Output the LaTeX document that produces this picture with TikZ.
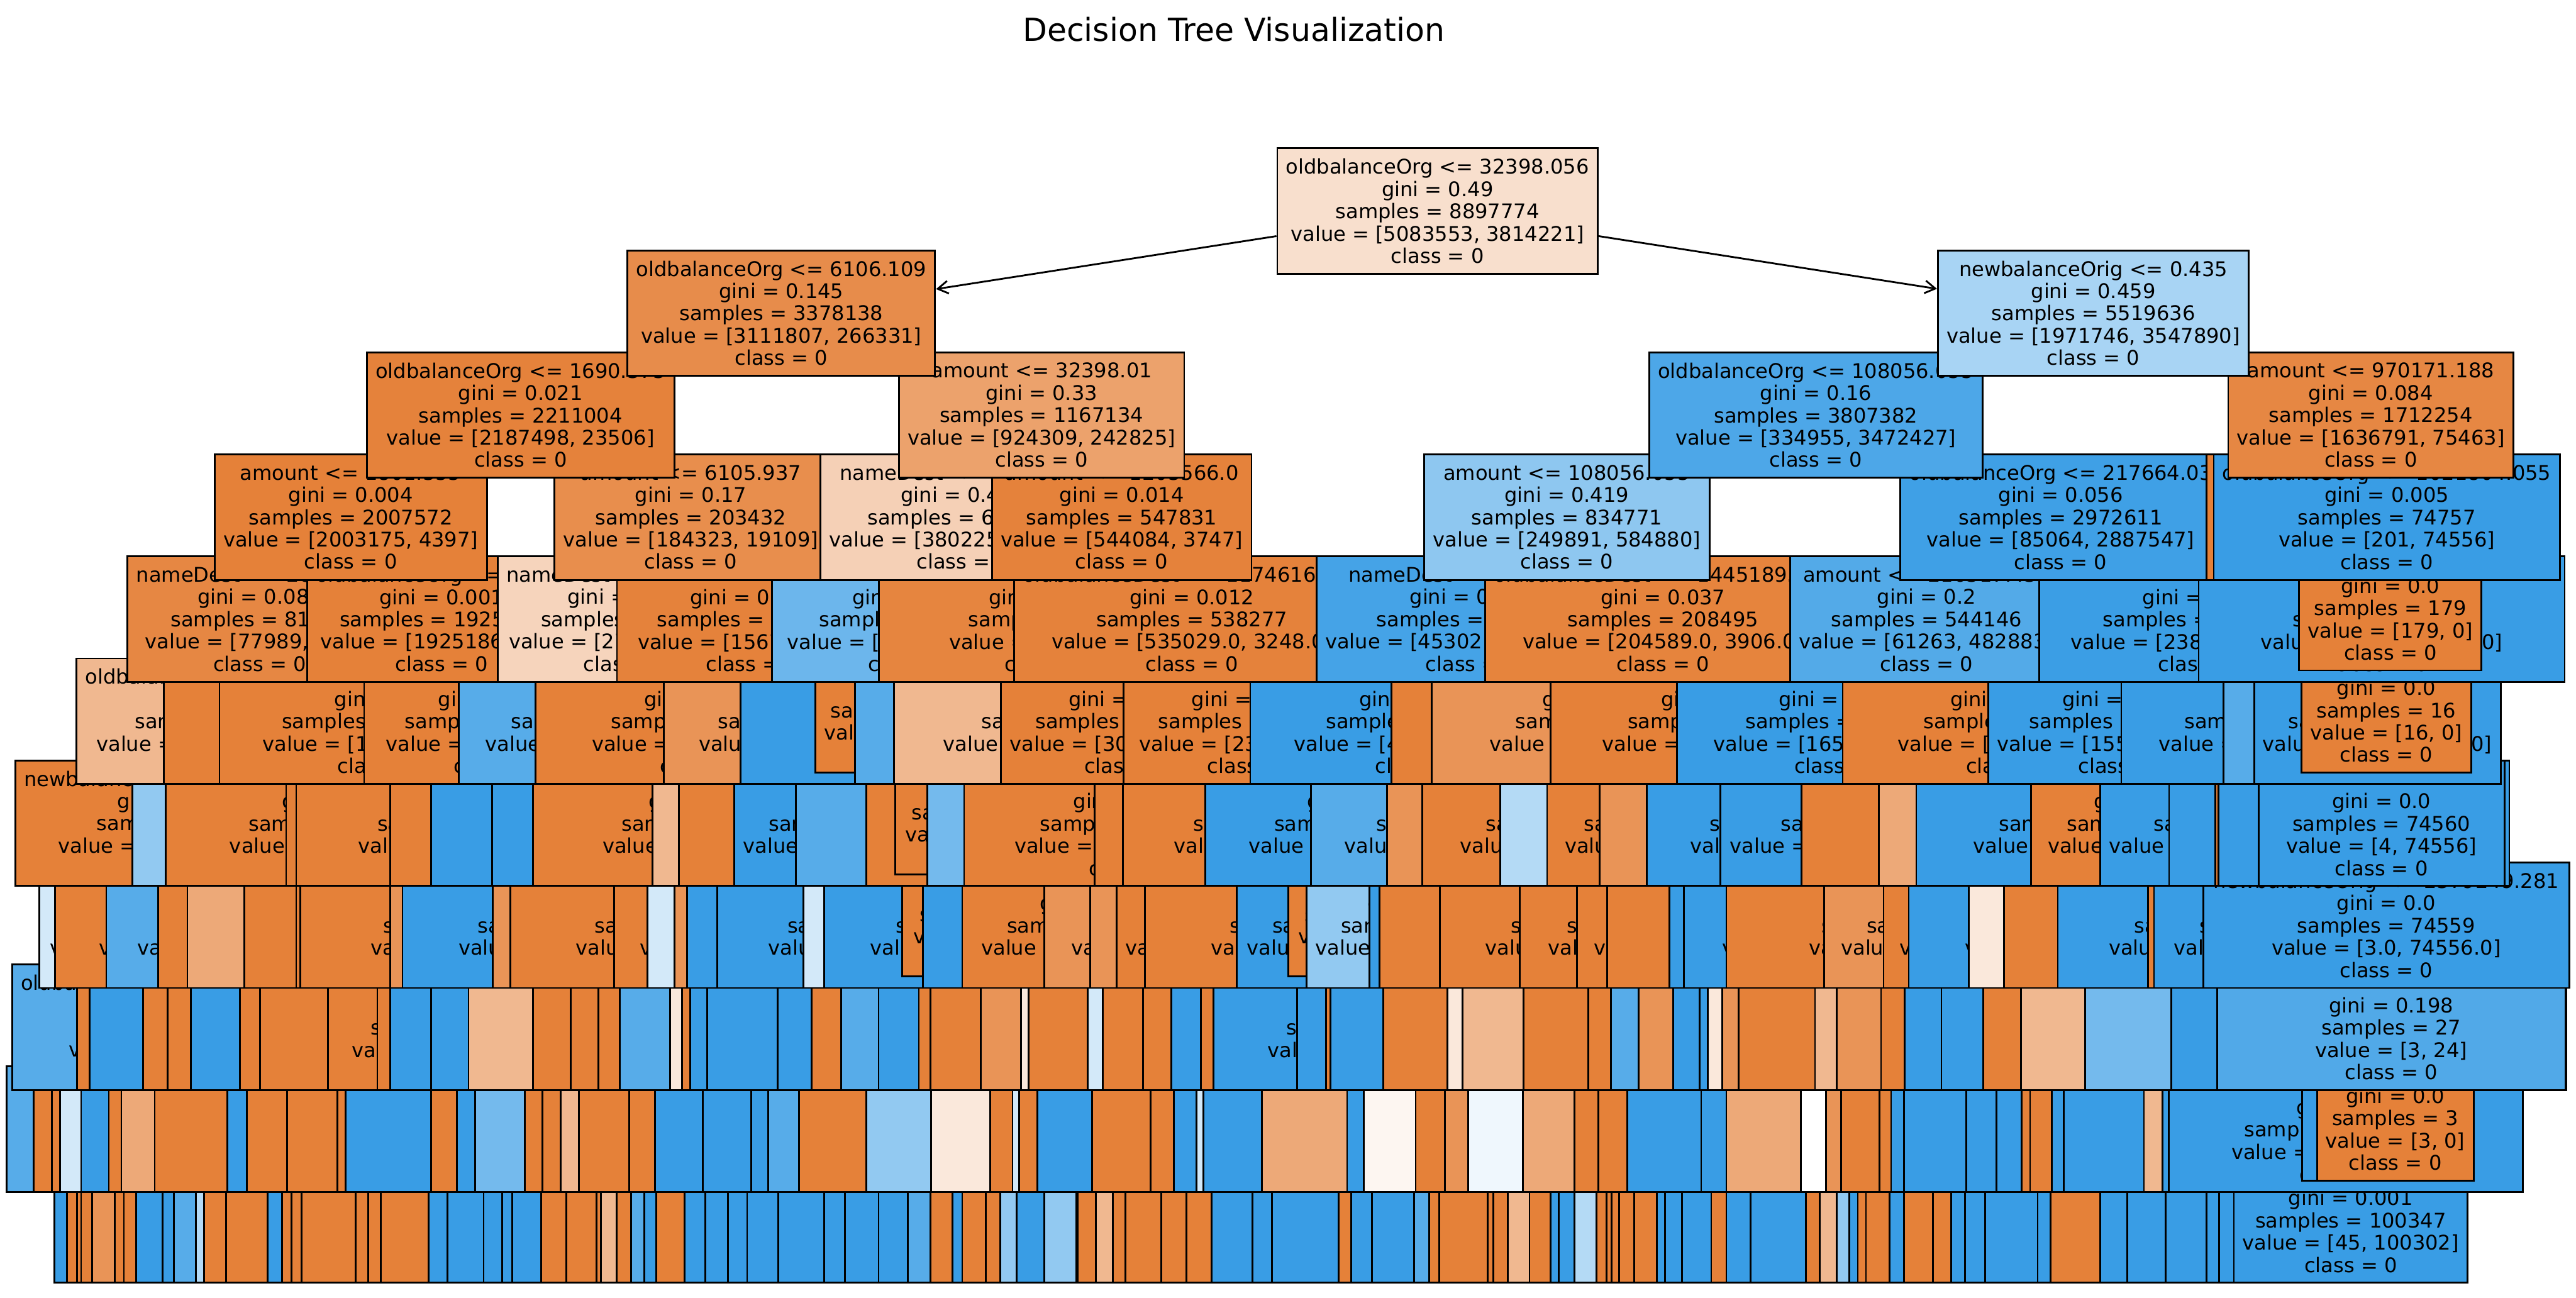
\documentclass[tikz,border=0pt]{standalone}
\usepackage{fontspec}
\setmainfont{DejaVu Sans}
\usepackage{tikz}
\usetikzlibrary{arrows.meta}

\definecolor{c0}{RGB}{229,129,57}
\definecolor{c1}{RGB}{57,157,229}
\colorlet{oA}{c0}
\colorlet{oB}{c0!85!white}
\colorlet{oC}{c0!68!white}
\colorlet{oD}{c0!56!white}
\colorlet{oE}{c0!18!white}
\colorlet{oF}{c0!7!white}
\colorlet{bA}{c1}
\colorlet{bB}{c1!85!white}
\colorlet{bC}{c1!70!white}
\colorlet{bD}{c1!55!white}
\colorlet{bE}{c1!38!white}
\colorlet{bF}{c1!22!white}
\colorlet{bG}{c1!8!white}

\newcommand{\treefont}{\fontsize{7}{7.72}\selectfont}
% one row of overlapping boxes: centre y, half height, right end, x/colour list
\newcommand{\striprow}[4]{%
  \foreach \x/\cl in {#4}
    \draw[cell, fill=\cl] (\x,#1-#2) rectangle (#3,#1+#2);}

\begin{document}
\begin{tikzpicture}[x=0.02cm, y=-0.02cm,
  cell/.style={draw=black, line width=0.62pt},
  split/.style={cell, align=center, font=\treefont, inner xsep=0.106cm,
                inner ysep=0pt, minimum height=1.528cm},
  leaf/.style={split, minimum height=1.248cm},
  arr/.style={-{Straight Barb[length=3.6pt,width=4.4pt]}, line width=0.62pt}]
\fill[white] (0,0) rectangle (1568,790);
\useasboundingbox (0,0) rectangle (1568,790);

% depth 10
\striprow{749.5}{31.2}{1502}{33.1/bA, 40.7/oA, 46.9/oA, 49.4/oA, 56/oB, 69.8/oA, 75.4/oA, 83/bA, 98.8/bA, 105.9/bB, 119.2/bE, 124.3/oA, 137.5/oA, 163/bA, 171.6/oA, 177.3/oA, 183.4/oA, 216.5/oA, 224.1/oA, 231.7/oA, 260.8/bA, 272.5/bA, 294.4/bA, 305.6/bA, 311.7/bA, 329.5/oA, 344.8/oA, 363.2/oA, 365.7/oD, 375.4/oA, 384/bB, 392.2/bA, 399.3/oA, 416.6/bA, 429.4/bA, 443.1/bA, 454.8/bA, 473.7/bA, 501.7/bA, 514.4/bA, 534.8/bA, 552.6/bB, 566.4/oA, 579.6/bA, 585.7/oA, 600/oA, 608.7/bD, 618.9/bA, 635.7/bD, 655/oA, 656/oA, 667.2/oD, 677.4/oA, 685/oA, 707/oA, 722.3/oA, 737.5/bA, 762.5/bA, 774.2/bA, 814.9/oA, 822.5/bA, 835.2/bA, 860.7/bB, 869.9/oA, 876/oA, 905.5/oA, 909.1/oA, 917.8/oD, 931/oA, 943.8/bA, 948.9/bA, 958.5/bE, 971.8/oA, 977.9/oA, 981/oA, 985.5/oA, 994.7/oA, 1008.5/bA, 1013.6/bA, 1023.8/bA, 1041.6/oA, 1050.8/bA, 1065.5/bA, 1099.2/oA, 1107.8/oD, 1118/bD, 1125.7/bA, 1130.8/oA, 1135.8/oA, 1150.1/bA, 1158.8/oA, 1176.6/oA, 1187.8/bA, 1196/bA, 1208.2/bA, 1240.3/bA, 1248/oA, 1278.5/bA, 1294.8/bA, 1318.2/bA, 1343/bA, 1350.7/bA}
\node[leaf, fill=c1] (n100347) at (1430.9,749.5) {gini = 0.001\\samples = 100347\\value = [45, 100302]\\class = 0};

% depth 9
\striprow{687.4}{38.2}{1535.8}{4.1/bB, 20.4/oA, 31.6/oA, 36.7/bF, 49.4/bA, 66.2/oA, 73.9/oC, 94.2/oA, 138.5/bA, 150.3/oA, 174.7/oA, 205.3/oA, 210.4/bA, 262.3/oA, 278.1/bA, 289.3/bC, 319.4/oA, 330.1/oA, 341.3/oD, 352.5/oA, 383/oA, 398.8/bA, 427.8/bA, 457.4/bA, 467.6/bB, 486.4/oA, 527.2/bD, 566.9/oE, 602.6/oA, 616.3/bF, 620.4/oA, 631.6/bA, 664.7/oA, 700.3/oA, 714.6/bA, 728.4/bF, 732.5/bA, 768.1/oC, 820/bA, 830.1/oF, 861.7/oA, 879.6/oB, 893.8/bG, 926.9/oC, 958.5/oA, 972.8/oA, 990.6/bA, 1035.5/bA, 1050.8/oC, 1096.1/white, 1111.4/oB, 1120.6/oA, 1144/oA, 1151.1/bA, 1158.8/bA, 1197/bA, 1215.3/bA, 1230.6/oA, 1235.7/oA, 1249/bA, 1256.1/bA, 1305/oD, 1316.2/bA}
\node[split, fill=bA, minimum width=4.31cm] (r9q) at (1428,687.4) {\strut\\gini = 0.0\\samples = 1002353\\value = [12, 1002341]\\class = 0};
\draw[cell, fill=bA] (1401.3,656.2) rectangle (1505.3,718.6);
\node[leaf, fill=c0] (n3) at (1458,687.4) {gini = 0.0\\samples = 3\\value = [3, 0]\\class = 0};

% depth 8
\node[split, fill=bB] (r8a) at (115.7,625.3) {oldbalanceDest <= 1734028.125\\gini = 0.236\\samples = 113511\\value = [15480, 98031]\\class = 0};
\striprow{625.3}{38.2}{1562}{46.9/oA, 54.5/bA, 87.1/oA, 101.9/oA, 116.1/bA, 146.2/oA, 158.4/oA}
\node[split, fill=oA, minimum width=3.208cm] (r8b) at (279.9,625.3) {\strut\\gini = 0.016\\samples = 25811\\value = [25601, 210]\\class = 0};
\striprow{625.3}{38.2}{1562}{229.7/oA, 237.4/bA, 262.3/bA, 285.2/oD, 324.5/oA, 347.4/oA, 364.2/oA, 377.4/bB, 408/oE, 415.1/oA, 420.2/bA, 430.4/bA, 473.2/bA, 494.1/oA, 511.9/bB, 534.8/bA, 559.3/oA, 566.4/oA, 597/oB, 621.4/oE, 626/oA, 662.2/bF, 671.3/oA, 695.8/oA, 713.1/bA, 730.9/oA}
\node[split, fill=bA, minimum width=3.956cm] (r8c) at (837.4,625.3) {\strut\\gini = 0.019\\samples = 31120\\value = [301, 30819]\\class = 0};
\striprow{625.3}{38.2}{1562}{789.4/bA, 807.2/oA, 809.8/bA, 841.9/oA, 881.1/oE, 890.3/oD, 927.5/oA, 966.7/oA, 980.4/bB, 997.3/oB, 1018.6/bA, 1034.4/bA, 1039.5/oE, 1048.2/oB, 1058.4/oA, 1104.8/oD, 1118/oB, 1145/oA, 1159.3/bA, 1181.7/bA, 1207.2/oA, 1230.1/oD, 1269.3/bC, 1321.8/bA}
\node[split, fill=c1!88!white, minimum width=4.24cm] (n27) at (1455.5,625.3) {\strut\\gini = 0.198\\samples = 27\\value = [3, 24]\\class = 0};

% depth 7
\node[split, fill=bF, minimum width=3.216cm] (r7p) at (104.3,563.2) {\strut\\gini = 0.493\\samples = 100400\\value = [44210, 56190]\\class = 0};
\node[split, fill=oA, minimum width=4.008cm] (r7q) at (133.8,563.2) {\strut\\gini = 0.016\\samples = 211004\\value = [209337, 1667]\\class = 0};
\node[split, fill=bB, minimum width=3.864cm] (r7r) at (161.3,563.2) {\strut\\gini = 0.239\\samples = 131207\\value = [18210, 112997]\\class = 0};
\striprow{563.2}{38.2}{1564}{96.3/oA, 114.1/oC, 148.7/oA, 180.3/oA}
\node[split, fill=oA, minimum width=4.184cm] (r7a) at (287.5,563.2) {\strut\\gini = 0.008\\samples = 24410\\value = [24315, 95]\\class = 0};
\striprow{563.2}{38.2}{1564}{237.4/oB}
\node[split, fill=bA, minimum width=4cm] (r7b) at (345,563.2) {\strut\\gini = 0.025\\samples = 31502\\value = [402, 31100]\\class = 0};
\striprow{563.2}{38.2}{1564}{300/oB}
\node[split, fill=oA, minimum width=4.224cm] (r7c) at (416.3,563.2) {\strut\\gini = 0.007\\samples = 64027\\value = [63811, 216]\\class = 0};
\node[split, fill=oA, minimum width=3.42cm] (r7s) at (459.4,563.2) {\strut\\gini = 0.025\\samples = 95440\\value = [94233, 1207]\\class = 0};
\striprow{563.2}{38.2}{1564}{394.2/bF, 410.5/oB, 418.2/bA}
\node[split, fill=bA, minimum width=3.88cm] (r7d) at (533.5,563.2) {\strut\\gini = 0.014\\samples = 18820\\value = [137, 18683]\\class = 0};
\striprow{563.2}{38.2}{1564}{489/bF}
\node[split, fill=bA, minimum width=4.068cm] (r7e) at (603.4,563.2) {\strut\\gini = 0.017\\samples = 117264\\value = [1032, 116232]\\class = 0};
\node[leaf, fill=oA, minimum width=2.608cm] (r7f) at (614.2,563.2) {gini = 0.0\\samples = 21450\\value = [21450, 0]\\class = 0};
\striprow{563.2}{38.2}{1564}{561.8/bA}
\node[split, fill=oA, minimum width=3.412cm] (r7g) at (671,563.2) {\strut\\gini = 0.021\\samples = 208117\\value = [205921, 2196]\\class = 0};
\node[split, fill=oB, minimum width=3.6cm] (r7t) at (725.7,563.2) {\strut\\gini = 0.232\\samples = 104832\\value = [90822, 14010]\\class = 0};
\striprow{563.2}{38.2}{1564}{663.7/oB}
\node[split, fill=oA, minimum width=3.16cm] (r7u) at (758.8,563.2) {\strut\\gini = 0.017\\samples = 119327\\value = [118312, 1015]\\class = 0};
\node[split, fill=oA, minimum width=4.244cm] (r7h) at (802.9,563.2) {\strut\\gini = 0.015\\samples = 43188\\value = [42870, 318]\\class = 0};
\node[split, fill=bA, minimum width=3.192cm] (r7i) at (832.6,563.2) {\strut\\gini = 0.018\\samples = 350412\\value = [3211, 347201]\\class = 0};
\node[leaf, fill=oA, minimum width=2.568cm] (r7v) at (848.5,563.2) {gini = 0.0\\samples = 11204\\value = [11204, 0]\\class = 0};
\node[split, fill=bD, minimum width=3.01cm] (r7j) at (870.4,563.2) {\strut\\gini = 0.428\\samples = 14950\\value = [4632, 10318]\\class = 0};
\striprow{563.2}{38.2}{1564}{833.7/bA, 839.8/oA}
\node[split, fill=oA, minimum width=4.048cm] (r7k) at (977.7,563.2) {\strut\\gini = 0.02\\samples = 190534\\value = [188602, 1932]\\class = 0};
\node[split, fill=oA, minimum width=3.328cm] (r7l) at (1008.1,563.2) {\strut\\gini = 0.012\\samples = 37215\\value = [36981, 234]\\class = 0};
\node[split, fill=oA, minimum width=3.204cm] (r7w) at (1040.1,563.2) {\strut\\gini = 0.092\\samples = 29122\\value = [27712, 1410]\\class = 0};
\striprow{563.2}{38.2}{1564}{978.4/oA, 1016.1/bA}
\node[split, fill=bA, minimum width=3.884cm] (r7x) at (1121.9,563.2) {\strut\\gini = 0.014\\samples = 211851\\value = [1521, 210330]\\class = 0};
\node[split, fill=oA, minimum width=4.336cm] (r7m) at (1159.2,563.2) {\strut\\gini = 0.011\\samples = 6020\\value = [5987, 33]\\class = 0};
\node[split, fill=oB, minimum width=3.356cm] (r7n) at (1194.3,563.2) {\strut\\gini = 0.191\\samples = 102817\\value = [91824, 10993]\\class = 0};
\node[split, fill=oA, minimum width=3.18cm] (r7y) at (1226,563.2) {\strut\\gini = 0.042\\samples = 51338\\value = [50230, 1108]\\class = 0};
\node[split, fill=bA, minimum width=4.316cm] (r7z) at (1269.7,563.2) {\strut\\gini = 0.015\\samples = 292541\\value = [2210, 290331]\\class = 0};
\striprow{563.2}{38.2}{1564}{1198.5/oE, 1219.9/oA}
\node[split, fill=bA, minimum width=4.192cm] (r7o) at (1357.3,563.2) {\strut\\gini = 0.018\\samples = 482230\\value = [4318, 477912]\\class = 0};
\striprow{563.2}{38.2}{1564}{1307.5/oA}
\node[split, fill=bA, minimum width=3.436cm] (r7end) at (1397,563.2) {\strut\\gini = 0.012\\samples = 301922\\value = [1810, 300112]\\class = 0};
\node[split, fill=c1, minimum width=4.46cm] (n74559) at (1452.5,563.2) {newbalanceOrig <= 2379249.281\\gini = 0.0\\samples = 74559\\value = [3.0, 74556.0]\\class = 0};

% depth 6
\node[split, fill=oA] (r6a) at (109.2,501.1) {newbalanceDest <= 1352.925\\gini = 0.106\\samples = 1790\\value = [1689.0, 101.0]\\class = 0};
\striprow{501.1}{38.2}{1527.4}{80.5/bD}
\node[split, fill=oA, minimum width=4.34cm] (r6b) at (209.5,501.1) {\strut\\gini = 0.009\\samples = 140312\\value = [139677, 635]\\class = 0};
\striprow{501.1}{38.2}{1527.4}{174.2/oA}
\node[split, fill=oA, minimum width=4.144cm] (r6c) at (283.9,501.1) {\strut\\gini = 0.021\\samples = 10120\\value = [10011, 109]\\class = 0};
\striprow{501.1}{38.2}{1527.4}{237.4/oA, 262.3/bA, 299.5/bA}
\node[split, fill=oA, minimum width=4.324cm] (r6d) at (432.6,501.1) {\strut\\gini = 0.008\\samples = 52401\\value = [52180, 221]\\class = 0};
\striprow{501.1}{38.2}{1527.4}{397.3/oD, 413.1/oA}
\node[split, fill=bA, minimum width=3.152cm] (r6e) at (526,501.1) {\strut\\gini = 0.014\\samples = 303982\\value = [2105, 301877]\\class = 0};
\striprow{501.1}{38.2}{1527.4}{484.4/bB, 527.2/oA}
\node[leaf, fill=oA, minimum width=2.564cm] (r6f) at (609.1,501.1) {gini = 0.0\\samples = 12083\\value = [12083, 0]\\class = 0};
\striprow{501.1}{38.2}{1527.4}{564.4/bC}
\node[split, fill=oA, minimum width=4.176cm] (r6g) at (691.2,501.1) {\strut\\gini = 0.022\\samples = 128865\\value = [127455, 1410]\\class = 0};
\striprow{501.1}{38.2}{1527.4}{666.2/oA}
\node[split, fill=oA, minimum width=3.876cm] (r6h) at (780.5,501.1) {\strut\\gini = 0.011\\samples = 71626\\value = [71240, 386]\\class = 0};
\node[split, fill=bA, minimum width=4.008cm] (r6i) at (833.7,501.1) {\strut\\gini = 0.018\\samples = 205959\\value = [1842, 204117]\\class = 0};
\node[split, fill=bB, minimum width=3.764cm] (r6j) at (892.1,501.1) {\strut\\gini = 0.152\\samples = 10165\\value = [843.0, 9322.0]\\class = 0};
\striprow{501.1}{38.2}{1527.4}{844.4/oB}
\node[split, fill=oA, minimum width=3.864cm] (r6k) at (962.4,501.1) {\strut\\gini = 0.026\\samples = 152251\\value = [150211, 2040]\\class = 0};
\striprow{501.1}{38.2}{1527.4}{913.2/bE}
\node[split, fill=oA, minimum width=3.064cm] (r6l) at (1018.3,501.1) {\strut\\gini = 0.03\\samples = 40741\\value = [40129, 612]\\class = 0};
\striprow{501.1}{38.2}{1527.4}{973.8/oB}
\node[split, fill=bA, minimum width=3.692cm] (r6m) at (1094.7,501.1) {\strut\\gini = 0.008\\samples = 50429\\value = [211, 50218]\\class = 0};
\node[split, fill=bA, minimum width=3.8cm] (r6n) at (1142.2,501.1) {\strut\\gini = 0.084\\samples = 535891\\value = [23514.0, 512377.0]\\class = 0};
\striprow{501.1}{38.2}{1527.4}{1096.6/oA, 1143.5/oC}
\node[split, fill=bA, minimum width=4.336cm] (r6o) at (1274.8,501.1) {\strut\\gini = 0.015\\samples = 401374\\value = [3120, 398254]\\class = 0};
\node[split, fill=oA, minimum width=3.044cm] (r6p) at (1312.3,501.1) {\strut\\gini = 0.042\\samples = 19049\\value = [18644, 405]\\class = 0};
\node[split, fill=bA, minimum width=3.428cm] (r6q) at (1365.2,501.1) {\strut\\gini = 0.045\\samples = 53579\\value = [1234.0, 52345.0]\\class = 0};
\striprow{501.1}{38.2}{1527.4}{1320.3/bA, 1348.3/oA, 1350.3/bA}
\node[split, fill=c1, minimum width=2.994cm] (n74560) at (1449.6,501.1) {\strut\\gini = 0.0\\samples = 74560\\value = [4, 74556]\\class = 0};

% depth 5
\node[split, fill=oD] (r5a) at (140.2,439) {oldbalanceOrg <= 2184.625\\gini = 0.425\\samples = 334166\\value = [231907, 102259]\\class = 0};
\striprow{439}{38.2}{1522}{99.8/oA}
\node[split, fill=oA, minimum width=4cm] (r5b) at (233.6,439) {\strut\\gini = 0.0\\samples = 1924283\\value = [1923871, 412]\\class = 0};
\node[split, fill=oA, minimum width=3.32cm] (r5c) at (304.6,439) {\strut\\gini = 0.001\\samples = 183352\\value = [183241, 111]\\class = 0};
\node[split, fill=bB, minimum width=3.6cm] (r5d) at (369.1,439) {\strut\\gini = 0.152\\samples = 111196\\value = [9234, 101962]\\class = 0};
\node[split, fill=oA, minimum width=4.16cm] (r5e) at (430,439) {\strut\\gini = 0.009\\samples = 156220\\value = [155512, 708]\\class = 0};
\node[split, fill=oB, minimum width=3.488cm] (r5f) at (491.2,439) {\strut\\gini = 0.225\\samples = 11200\\value = [9752, 1448]\\class = 0};
\striprow{439}{38.2}{1522}{450.8/bA}
\node[leaf, fill=oA, minimum width=2.524cm] (r5g) at (559.7,439) {gini = 0.0\\samples = 10315\\value = [10315, 0]\\class = 0};
\striprow{439}{38.2}{1522}{520.5/bB}
\node[split, fill=oD, minimum width=4.464cm] (r5h) at (655.6,439) {\strut\\gini = 0.442\\samples = 310779\\value = [208311, 102468]\\class = 0};
\node[split, fill=oA, minimum width=3.164cm] (r5i) at (688.3,439) {\strut\\gini = 0.014\\samples = 303422\\value = [301233, 2189]\\class = 0};
\node[split, fill=oA, minimum width=3.168cm] (r5j) at (763.2,439) {\strut\\gini = 0.001\\samples = 233955\\value = [233796, 159]\\class = 0};
\node[split, fill=bA, minimum width=4.168cm] (r5k) at (865.2,439) {\strut\\gini = 0.144\\samples = 556425\\value = [43521, 512904]\\class = 0};
\striprow{439}{38.2}{1522}{847/oA}
\node[split, fill=oB, minimum width=4.208cm] (r5l) at (976.6,439) {\strut\\gini = 0.181\\samples = 24448\\value = [21987, 2461]\\class = 0};
\node[split, fill=oA, minimum width=4.204cm] (r5m) at (1048.9,439) {\strut\\gini = 0.021\\samples = 162035\\value = [160293, 1742]\\class = 0};
\node[split, fill=bA, minimum width=3.996cm] (r5n) at (1120.5,439) {\strut\\gini = 0.037\\samples = 867690\\value = [16524, 851166]\\class = 0};
\node[split, fill=oA, minimum width=4.136cm] (r5o) at (1225,439) {\strut\\gini = 0.051\\samples = 52594\\value = [51206, 1388]\\class = 0};
\node[split, fill=bA, minimum width=3.324cm] (r5p) at (1293.3,439) {\strut\\gini = 0.032\\samples = 954121\\value = [15517, 938604]\\class = 0};
\node[split, fill=bA, minimum width=3.864cm] (r5q) at (1387.8,439) {\strut\\gini = 0.0\\samples = 160314\\value = [3.0, 160311.0]\\class = 0};
\striprow{439}{38.2}{1522}{1353.4/bB, 1372.3/bA}
\node[split, fill=c1, minimum width=2.988cm] (n74562) at (1447.1,439) {\strut\\gini = 0.0\\samples = 74562\\value = [6.0, 74556.0]\\class = 0};
\node[leaf, fill=c0] (n16) at (1452.5,439) {gini = 0.0\\samples = 16\\value = [16, 0]\\class = 0};

% depth 4
\node[split, fill=c0!95!white] (l4a) at (158.1,376.9) {nameDest <= 289104.5\\gini = 0.085\\samples = 81600\\value = [77989, 3611]\\class = 0};
\node[split, fill=c0] (l4b) at (268.8,376.9) {oldbalanceOrg <= 580.5\\gini = 0.001\\samples = 1925972\\value = [1925186, 786]\\class = 0};
\node[split, fill=c0!34!white] (l4c) at (383.4,376.9) {nameDest <= 163290.5\\gini = 0.479\\samples = 45817\\value = [27600, 18217]\\class = 0};
\node[split, fill=c0!99!white, minimum width=3.3cm] (l4d) at (458,376.9) {\strut\\gini = 0.011\\samples = 157615\\value = [156723, 892]\\class = 0};
\node[split, fill=c1!74!white, minimum width=3.476cm] (l4e) at (556.7,376.9) {\strut\\gini = 0.327\\samples = 301024\\value = [61953, 239071]\\class = 0};
\node[split, fill=c0!97!white, minimum width=4.188cm] (l4f) at (639.7,376.9) {\strut\\gini = 0.034\\samples = 6512\\value = [6399, 113]\\class = 0};
\node[split, fill=c0!99!white] (l4g) at (725.5,376.9) {oldbalanceDest <= 1174616.375\\gini = 0.012\\samples = 538277\\value = [535029.0, 3248.0]\\class = 0};
\node[split, fill=c1!94!white] (l4h) at (896,376.9) {nameDest <= 734029.5\\gini = 0.105\\samples = 811813\\value = [45302.0, 766511.0]\\class = 0};
\node[split, fill=c0!98!white] (l4i) at (1012.3,376.9) {oldbalanceDest <= 1445189.625\\gini = 0.037\\samples = 208495\\value = [204589.0, 3906.0]\\class = 0};
\node[split, fill=c1!87!white] (l4j) at (1172.7,376.9) {amount <= 216317.435\\gini = 0.2\\samples = 544146\\value = [61263, 482883]\\class = 0};
\node[split, fill=c1!99!white, minimum width=4.028cm] (l4k) at (1342,376.9) {\strut\\gini = 0.019\\samples = 2428465\\value = [23801, 2404664]\\class = 0};
\node[split, fill=c1, minimum width=4.456cm] (l4l) at (1449.7,376.9) {\strut\\gini = 0.001\\samples = 74578\\value = [22.0, 74556.0]\\class = 0};
\node[leaf, fill=c0] (n179) at (1455,376.9) {gini = 0.0\\samples = 179\\value = [179, 0]\\class = 0};

% depth 3
\node[split, fill=c0] (l3a) at (213.5,314.8) {amount <= 1801.355\\gini = 0.004\\samples = 2007572\\value = [2003175, 4397]\\class = 0};
\node[split, fill=c0!90!white] (l3b) at (420.5,314.8) {amount <= 6105.937\\gini = 0.17\\samples = 203432\\value = [184323, 19109]\\class = 0};
\node[split, fill=c0!37!white] (l3c) at (586.2,314.8) {nameDest <= 563218.5\\gini = 0.474\\samples = 619303\\value = [380225, 239078]\\class = 0};
\node[split, fill=c0!99!white] (l3d) at (682.8,314.8) {amount <= 1203566.0\\gini = 0.014\\samples = 547831\\value = [544084, 3747]\\class = 0};
\node[split, fill=c1!57!white] (l3e) at (953.7,314.8) {amount <= 108056.055\\gini = 0.419\\samples = 834771\\value = [249891, 584880]\\class = 0};
\node[split, fill=c1!97!white] (l3f) at (1254.3,314.8) {oldbalanceOrg <= 217664.03\\gini = 0.056\\samples = 2972611\\value = [85064, 2887547]\\class = 0};
\draw[cell, fill=c0] (1343.2,276.6) rectangle (1360,353);
\node[split, fill=c1] (l3g) at (1452.8,314.8) {oldbalanceOrg <= 1021804.055\\gini = 0.005\\samples = 74757\\value = [201, 74556]\\class = 0};

% depth 2
\node[split, fill=c0!99!white] (l2a) at (316.9,252.7) {oldbalanceOrg <= 1690.375\\gini = 0.021\\samples = 2211004\\value = [2187498, 23506]\\class = 0};
\node[split, fill=c0!74!white] (l2b) at (634,252.7) {amount <= 32398.01\\gini = 0.33\\samples = 1167134\\value = [924309, 242825]\\class = 0};
\node[split, fill=c1!90!white] (l2c) at (1105.3,252.7) {oldbalanceOrg <= 108056.055\\gini = 0.16\\samples = 3807382\\value = [334955, 3472427]\\class = 0};
\node[split, fill=c0!95!white] (l2d) at (1443.1,252.7) {amount <= 970171.188\\gini = 0.084\\samples = 1712254\\value = [1636791, 75463]\\class = 0};

% depth 1
\node[split, fill=c0!91!white] (l1a) at (475.6,190.6) {oldbalanceOrg <= 6106.109\\gini = 0.145\\samples = 3378138\\value = [3111807, 266331]\\class = 0};
\node[split, fill=c1!44!white] (l1b) at (1274.2,190.6) {newbalanceOrig <= 0.435\\gini = 0.459\\samples = 5519636\\value = [1971746, 3547890]\\class = 0};

% root
\node[split, fill=c0!25!white] (root) at (875,128.5) {oldbalanceOrg <= 32398.056\\gini = 0.49\\samples = 8897774\\value = [5083553, 3814221]\\class = 0};

\draw[arr] (root) -- (l1a);
\draw[arr] (root) -- (l1b);

\node[font=\fontsize{11}{13}\selectfont, anchor=base] (title) at (751,24.9) {Decision Tree Visualization};
\end{tikzpicture}
\end{document}
